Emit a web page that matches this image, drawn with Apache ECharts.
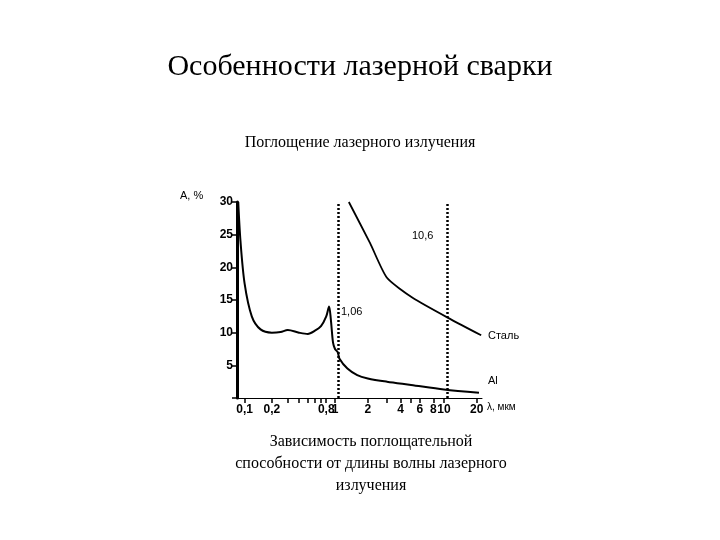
<!DOCTYPE html>
<html><head><meta charset="utf-8">
<script src="https://cdn.jsdelivr.net/npm/echarts@6/dist/echarts.min.js"></script>
<style>body{margin:0;background:#fff}#c{width:720px;height:540px}</style>
</head><body><div id="c"></div>
<script>
var alWave = [0.085, 0.09, 0.1, 0.12, 0.15, 0.2, 0.25, 0.3, 0.4, 0.5, 0.6, 0.7, 0.8, 0.86, 0.9, 0.95, 1.0, 1.06, 1.1, 1.3, 1.6, 2, 3, 5, 10, 21];
var alValue = [30, 24, 17.5, 12.5, 10.5, 10, 10.1, 10.4, 10, 9.8, 10.3, 11, 12.5, 14, 12, 8.5, 7.5, 7, 6, 4.5, 3.5, 3, 2.5, 2, 1.3, 0.8];
var steelWave = [1.34, 2.1, 3.0, 5.2, 11.7, 22];
var steelValue = [30, 23.7, 18.4, 15.3, 12, 9.6];
var laserLines = [1.06, 10.6];
var xTickValues = [0.1, 0.2, 0.8, 1, 2, 4, 6, 8, 10, 20];
var xTickLabels = ['0,1', '0,2', '0,8', '1', '2', '4', '6', '8', '10', '20'];
var xMinorTicks = [0.3, 0.4, 0.5, 0.6, 0.7, 3, 5];

// compressed log scale below 1 µm, as in the original figure
function pos(w) { var l = Math.log10(w); return w < 1 ? l * 0.83 : l; }
function pair(ws, vs) { return ws.map(function (w, i) { return [pos(w), vs[i]]; }); }

var serif = 'Liberation Serif';
var sans = 'Liberation Sans';
var chart = echarts.init(document.getElementById('c'));
chart.setOption({
    backgroundColor: '#fff',
    animation: false,
    graphic: [
        { type: 'text', left: 'center', top: 52, style: { text: 'Особенности лазерной сварки', font: '30px "' + serif + '"', fill: '#000' } },
        { type: 'text', left: 'center', top: 135, style: { text: 'Поглощение лазерного излучения', font: '16px "' + serif + '"', fill: '#000' } },
        { type: 'text', x: 371, y: 431, style: { text: 'Зависимость поглощательной\nспособности от длины волны лазерного\nизлучения', font: '16px "' + serif + '"', fill: '#000', align: 'center', lineHeight: 22 } },
        { type: 'text', left: 180, top: 190, style: { text: 'А, %', font: '11px "' + sans + '"', fill: '#000' } },
        { type: 'text', left: 341, top: 306, style: { text: '1,06', font: '11px "' + sans + '"', fill: '#000' } },
        { type: 'text', left: 412, top: 230, style: { text: '10,6', font: '11px "' + sans + '"', fill: '#000' } },
        { type: 'text', left: 488, top: 330, style: { text: 'Сталь', font: '11px "' + sans + '"', fill: '#000' } },
        { type: 'text', left: 488, top: 375, style: { text: 'Al', font: '11px "' + sans + '"', fill: '#000' } },
        { type: 'text', left: 487, top: 402, style: { text: 'λ, мкм', font: '10px "' + sans + '"', fill: '#000' } }
    ],
    grid: { left: 237, right: 238, top: 202, bottom: 142 },
    xAxis: {
        type: 'value', min: -0.9, max: 1.35,
        axisLine: { show: true, lineStyle: { color: '#000', width: 1 } },
        splitLine: { show: false },
        axisTick: { show: true, length: 5, lineStyle: { color: '#000', width: 1.5 }, customValues: xTickValues.concat(xMinorTicks).map(pos) },
        axisLabel: {
            color: '#000', fontFamily: sans, fontSize: 12, fontWeight: 'bold', margin: 6,
            customValues: xTickValues.map(pos),
            formatter: function (v) {
                for (var i = 0; i < xTickValues.length; i++) if (Math.abs(pos(xTickValues[i]) - v) < 1e-6) return xTickLabels[i];
                return '';
            }
        }
    },
    yAxis: {
        type: 'value', min: 0, max: 30, interval: 5,
        axisLine: { show: true, onZero: false, lineStyle: { color: '#000', width: 3 } },
        splitLine: { show: false },
        axisTick: { show: true, length: 5, lineStyle: { color: '#000', width: 1.5 } },
        axisLabel: { color: '#000', fontFamily: sans, fontSize: 12, fontWeight: 'bold', margin: 4, formatter: function (v) { return v === 0 ? '' : v; } }
    },
    series: [
        { type: 'line', data: pair(alWave, alValue), smooth: 0.3, symbol: 'none', lineStyle: { color: '#000', width: 2 } },
        { type: 'line', data: pair(steelWave, steelValue), smooth: 0.2, symbol: 'none', lineStyle: { color: '#000', width: 1.8 },
          markLine: { silent: true, symbol: 'none', label: { show: false },
            data: laserLines.map(function (w) { return { xAxis: pos(w) }; }),
            lineStyle: { color: '#000', type: [2, 2], width: 2.5 } } }
    ]
});
</script></body></html>
